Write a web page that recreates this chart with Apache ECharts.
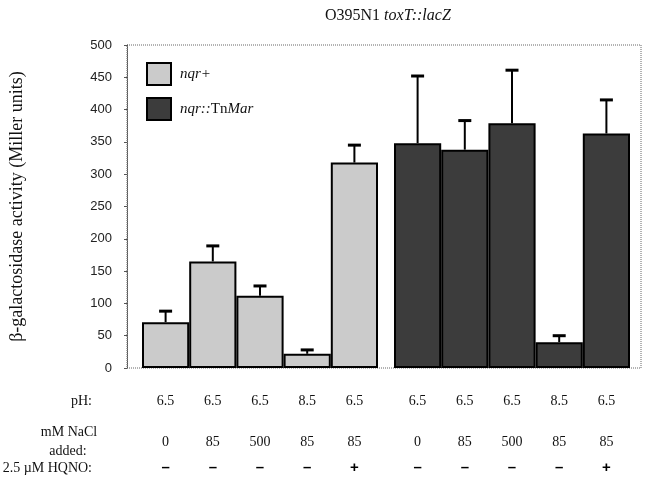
<!DOCTYPE html>
<html>
<head>
<meta charset="utf-8">
<script src="https://cdn.jsdelivr.net/npm/echarts@6/dist/echarts.min.js"></script>
<style>html,body{margin:0;padding:0;background:#fff}#c{width:647px;height:481px}</style>
</head>
<body>
<div id="c"></div>
<script>
// ---- data ----
const seriesNames = ['nqr+', 'nqr::TnMar'];
const phLabels   = ['6.5', '6.5', '6.5', '8.5', '6.5'];
const naclLabels = ['0', '85', '500', '85', '85'];
const hqnoLabels = ['\u2013', '\u2013', '\u2013', '\u2013', '+'];
const nqrPlus     = [71, 165, 112, 22, 318];
const nqrPlusErr  = [17, 24, 15, 6, 27];
const tnMar       = [348, 338, 379, 40, 363];
const tnMarErr    = [104, 45, 82, 10, 52];
const yMin = 0, yMax = 500, yStep = 50;
const categories = ['1', '2', '3', '4', '5'];

const SERIF = '"Liberation Serif", "DejaVu Serif", serif';
const SANS = '"Liberation Sans", Arial, sans-serif';
const lightFill = '#cbcbcb';
const darkFill = '#3c3c3c';

const chart = echarts.init(document.getElementById('c'), null, {renderer: 'canvas'});

function catAxis(gridIndex) {
  return {
    type: 'category', gridIndex, data: categories, boundaryGap: true,
    axisLine: {show: false}, axisTick: {show: false},
    axisLabel: {
      margin: 11, interval: 0,
      formatter: (v, i) => '{a|' + phLabels[i] + '}\n{b|' + naclLabels[i] + '}\n{c|' + hqnoLabels[i] + '}',
      rich: {
        a: {fontFamily: SERIF, fontSize: 14, color: '#111', lineHeight: 44},
        b: {fontFamily: SERIF, fontSize: 14, color: '#111', lineHeight: 38},
        c: {fontFamily: SANS, fontSize: 15, fontWeight: 'bold', color: '#000', lineHeight: 14}
      }
    }
  };
}
function hiddenY(gridIndex) {
  return {type: 'value', gridIndex, min: yMin, max: yMax, interval: yStep, show: false, splitLine: {show: false}};
}
function errSeries(name, vals, errs, axis) {
  return {
    type: 'custom', name: name + '_err', xAxisIndex: axis, yAxisIndex: axis, z: 5,
    data: vals.map((v, i) => [i, v, errs[i]]),
    renderItem: (params, api) => {
      const x = api.value(0), y = api.value(1), e = api.value(2);
      const b = api.coord([x, y]), t = api.coord([x, y + e]);
      return {type: 'group', children: [
        {type: 'line', shape: {x1: b[0], y1: b[1], x2: t[0], y2: t[1]}, style: {stroke: '#000', lineWidth: 2}},
        {type: 'line', shape: {x1: t[0] - 6.5, y1: t[1], x2: t[0] + 6.5, y2: t[1]}, style: {stroke: '#000', lineWidth: 3}}
      ]};
    }
  };
}

const option = {
  animation: false,
  backgroundColor: '#fff',
  title: {
    text: '{r|O395N1 }{i|toxT::lacZ}', left: 320, top: 3,
    textStyle: {fontWeight: 'normal', rich: {
      r: {fontFamily: SERIF, fontSize: 16, fontWeight: 'normal', color: '#111'},
      i: {fontFamily: SERIF, fontSize: 16, fontWeight: 'normal', fontStyle: 'italic', color: '#111'}
    }}
  },
  legend: {
    data: seriesNames, orient: 'vertical', left: 146, top: 62, padding: 0,
    itemWidth: 24, itemHeight: 22, itemGap: 11, icon: 'rect',
    itemStyle: {borderColor: '#000', borderWidth: 2},
    formatter: n => n === 'nqr+' ? '{i|nqr+}' : '{i|nqr::}{r|Tn}{i|Mar}',
    textStyle: {padding: [0, 0, 0, 4], rich: {
      i: {fontFamily: SERIF, fontSize: 15, fontStyle: 'italic', color: '#111'},
      r: {fontFamily: SERIF, fontSize: 15, color: '#111'}
    }}
  },
  grid: [
    {left: 126, top: 45, right: 6, bottom: 113, show: true, borderColor: '#666', borderWidth: 1, borderType: 'dotted'},
    {left: 142, top: 45, width: 236, bottom: 113},
    {left: 394, top: 45, width: 236, bottom: 113}
  ],
  xAxis: [
    {type: 'value', gridIndex: 0, show: false, min: 0, max: 1},
    catAxis(1), catAxis(2)
  ],
  yAxis: [
    {
      type: 'value', gridIndex: 0, min: yMin, max: yMax, interval: yStep,
      name: '\u03b2-galactosidase activity (Miller units)', nameLocation: 'middle', nameGap: 101,
      nameTextStyle: {fontFamily: SERIF, fontSize: 18, color: '#111'},
      axisLine: {show: true, lineStyle: {color: '#555', type: 'dotted', width: 1}},
      axisTick: {show: true, length: 3, lineStyle: {color: '#555'}},
      splitLine: {show: false},
      axisLabel: {fontFamily: SANS, fontSize: 13, color: '#222', margin: 15}
    },
    hiddenY(1), hiddenY(2)
  ],
  graphic: [
    {type: 'text', style: {text: 'pH:', x: 92, y: 401, align: 'right', verticalAlign: 'middle', fontFamily: SERIF, fontSize: 14, fill: '#111'}},
    {type: 'text', style: {text: 'mM NaCl', x: 69, y: 432, align: 'center', verticalAlign: 'middle', fontFamily: SERIF, fontSize: 14, fill: '#111'}},
    {type: 'text', style: {text: 'added:', x: 68, y: 451, align: 'center', verticalAlign: 'middle', fontFamily: SERIF, fontSize: 14, fill: '#111'}},
    {type: 'text', style: {text: '2.5 \u00b5M HQNO:', x: 92, y: 468, align: 'right', verticalAlign: 'middle', fontFamily: SERIF, fontSize: 14, fill: '#111'}}
  ],
  series: [
    {
      type: 'bar', name: seriesNames[0], xAxisIndex: 1, yAxisIndex: 1, data: nqrPlus, barWidth: '100%', z: 3,
      itemStyle: {color: lightFill, borderColor: '#000', borderWidth: 2}
    },
    {
      type: 'bar', name: seriesNames[1], xAxisIndex: 2, yAxisIndex: 2, data: tnMar, barWidth: '100%', z: 3,
      itemStyle: {color: darkFill, borderColor: '#000', borderWidth: 2}
    },
    errSeries(seriesNames[0], nqrPlus, nqrPlusErr, 1),
    errSeries(seriesNames[1], tnMar, tnMarErr, 2)
  ]
};
chart.setOption(option);
</script>
</body>
</html>
